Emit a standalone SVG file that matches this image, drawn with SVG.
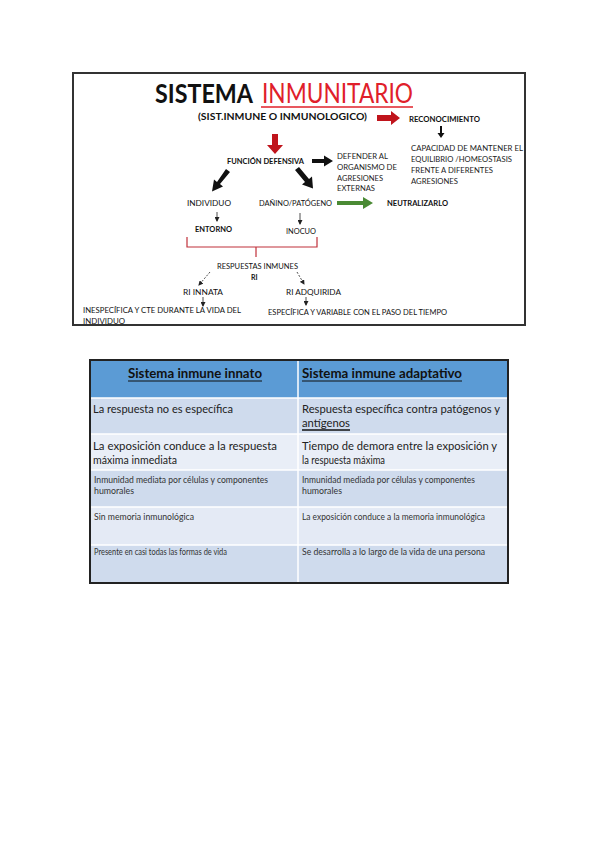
<svg xmlns="http://www.w3.org/2000/svg" width="599" height="848" viewBox="0 0 599 848">
<defs>
<style>
text{font-family:Lato,"Open Sans","Liberation Sans",sans-serif;fill:#111}
.b{font-weight:bold}
.s7{font-size:7px}
.s8{font-size:8px;fill:#222}
.t11{font-size:11.5px;fill:#222}
.t7{font-size:8.5px;fill:#333}
.th{font-size:12.5px;font-weight:bold;fill:#111}
.conn{fill:none;stroke:#222;stroke-width:0.8}
</style>
<marker id="sm" markerWidth="5" markerHeight="5" refX="4" refY="2.5" orient="auto" markerUnits="userSpaceOnUse"><path d="M0,0 L5,2.5 L0,5 z" fill="#222"/></marker>
</defs>
<rect width="599" height="848" fill="#fff"/>
<g id="frame"><rect x="73" y="73" width="452" height="252" fill="#fff" stroke="#333" stroke-width="2"/></g>
<g id="title">
<text x="155" y="103" font-size="27" class="b" textLength="98" lengthAdjust="spacingAndGlyphs">SISTEMA</text>
<text x="262" y="103" font-size="27" textLength="151" lengthAdjust="spacingAndGlyphs" style="fill:#e0202a">INMUNITARIO</text>
<line x1="261" y1="107" x2="413" y2="107" stroke="#e0202a" stroke-width="1.5"/>
</g>
<g id="sist"><text x="198" y="120" font-size="10" class="b" textLength="169" lengthAdjust="spacingAndGlyphs">(SIST.INMUNE O INMUNOLOGICO)</text></g>
<g id="reconoc"><text x="409" y="122" class="s7 b" textLength="71" lengthAdjust="spacingAndGlyphs">RECONOCIMIENTO</text></g>
<g id="capacidad"><text class="s8"><tspan x="411" y="151" textLength="112" lengthAdjust="spacingAndGlyphs">CAPACIDAD DE MANTENER EL</tspan><tspan x="411" y="162" textLength="101" lengthAdjust="spacingAndGlyphs">EQUILIBRIO /HOMEOSTASIS</tspan><tspan x="411" y="173" textLength="82" lengthAdjust="spacingAndGlyphs">FRENTE A DIFERENTES</tspan><tspan x="411" y="184" textLength="47" lengthAdjust="spacingAndGlyphs">AGRESIONES</tspan></text></g>
<g id="funcion"><text x="227" y="164" class="s7 b" textLength="77" lengthAdjust="spacingAndGlyphs">FUNCIÓN DEFENSIVA</text></g>
<g id="defender"><text class="s8"><tspan x="337" y="159" textLength="51" lengthAdjust="spacingAndGlyphs">DEFENDER AL</tspan><tspan x="337" y="170" textLength="60" lengthAdjust="spacingAndGlyphs">ORGANISMO DE</tspan><tspan x="337" y="181" textLength="46" lengthAdjust="spacingAndGlyphs">AGRESIONES</tspan><tspan x="337" y="191" textLength="38" lengthAdjust="spacingAndGlyphs">EXTERNAS</tspan></text></g>
<g id="individuo"><text x="187" y="206" class="s7" textLength="44" lengthAdjust="spacingAndGlyphs">INDIVIDUO</text></g>
<g id="danino"><text x="259" y="206" class="s7" textLength="73" lengthAdjust="spacingAndGlyphs">DAÑINO/PATÓGENO</text></g>
<g id="neutralizarlo"><text x="387" y="206" class="s7 b" textLength="61" lengthAdjust="spacingAndGlyphs">NEUTRALIZARLO</text></g>
<g id="entorno"><text x="195" y="232" class="s7 b" textLength="37" lengthAdjust="spacingAndGlyphs">ENTORNO</text></g>
<g id="inocuo"><text x="286" y="234" class="s7" textLength="30" lengthAdjust="spacingAndGlyphs">INOCUO</text></g>
<g id="respuestas"><text x="217" y="269" class="s7" textLength="81" lengthAdjust="spacingAndGlyphs">RESPUESTAS INMUNES</text><text x="251" y="280" class="s7 b">RI</text></g>
<g id="innata"><text x="183" y="295" class="s7" textLength="40" lengthAdjust="spacingAndGlyphs">RI INNATA</text></g>
<g id="adquirida"><text x="286" y="295" class="s7" textLength="55" lengthAdjust="spacingAndGlyphs">RI ADQUIRIDA</text></g>
<g id="inespecifica"><text class="s7"><tspan x="83" y="313" textLength="158" lengthAdjust="spacingAndGlyphs">INESPECÍFICA Y CTE DURANTE LA VIDA DEL</tspan><tspan x="83" y="324" textLength="42" lengthAdjust="spacingAndGlyphs">INDIVIDUO</tspan></text></g>
<g id="especifica"><text x="268" y="315" class="s7" textLength="179" lengthAdjust="spacingAndGlyphs">ESPECÍFICA Y VARIABLE CON EL PASO DEL TIEMPO</text></g>
<g id="connectors">
<path d="M377,115 h14 v-4 l9,7 l-9,7 v-4 h-14 z" fill="#c0141c"/>
<path d="M272,134 h6 v11 h5 l-8,9 l-8,-9 h5 z" fill="#c0141c"/>
<path d="M440,126 h2 v7 h2.5 l-3.5,5 l-3.5,-5 h2.5 z" fill="#111"/>
<path d="M312,159 h12 v-3.5 l9,5.5 l-9,5.5 v-3.5 h-12 z" fill="#111"/>
<path d="M226,169 l4,3 l-10,12 l3,2.5 l-11,5 l2,-12 l3,2.5 z" fill="#111"/>
<path d="M295,170 l4,-3 l10,12 l3,-2.5 l1,12 l-11,-4 l3,-2.5 z" fill="#111"/>
<path d="M337,201 h26 v-4 l10,6 l-10,6 v-4 h-26 z" fill="#4a8a34"/>
<line x1="217" y1="212" x2="217" y2="221" class="conn" marker-end="url(#sm)"/>
<line x1="300" y1="213" x2="300" y2="224" class="conn" marker-end="url(#sm)"/>
<path d="M187,237 V247 H317 V237 M256,247 V257" fill="none" stroke="#c0303a" stroke-width="1.2"/>
<line x1="210" y1="272" x2="199" y2="285" class="conn" stroke-dasharray="2,1.5" marker-end="url(#sm)"/>
<line x1="297" y1="272" x2="304" y2="284" class="conn" stroke-dasharray="2,1.5" marker-end="url(#sm)"/>
<line x1="203" y1="297" x2="203" y2="306" class="conn" stroke-width="1" marker-end="url(#sm)"/>
<line x1="306" y1="297" x2="306" y2="305" class="conn" stroke-width="1" marker-end="url(#sm)"/>
</g>
<g id="table">
<rect x="90" y="360" width="418" height="38" fill="#5b9bd5"/>
<rect x="90" y="398" width="418" height="36" fill="#cfdbed"/>
<rect x="90" y="434" width="418" height="36" fill="#e9eef7"/>
<rect x="90" y="470" width="418" height="37" fill="#cfdbed"/>
<rect x="90" y="507" width="418" height="38" fill="#e4eaf5"/>
<rect x="90" y="545" width="418" height="38" fill="#cfdbed"/>
<g stroke="#fff" stroke-width="1.5"><line x1="90" y1="398" x2="508" y2="398"/><line x1="90" y1="434" x2="508" y2="434"/><line x1="90" y1="470" x2="508" y2="470"/><line x1="90" y1="507" x2="508" y2="507"/><line x1="90" y1="545" x2="508" y2="545"/><line x1="298" y1="360" x2="298" y2="583"/></g>
<rect x="90" y="360" width="418" height="223" fill="none" stroke="#222" stroke-width="2"/>
<text x="128" y="378" class="th" textLength="134" lengthAdjust="spacingAndGlyphs">Sistema inmune innato</text>
<line x1="128" y1="381" x2="262" y2="381" stroke="#111" stroke-width="1"/>
<text x="302" y="378" class="th" textLength="160" lengthAdjust="spacingAndGlyphs">Sistema inmune adaptativo</text>
<line x1="302" y1="381" x2="462" y2="381" stroke="#111" stroke-width="1"/>
<text x="93" y="413" class="t11" textLength="140" lengthAdjust="spacingAndGlyphs">La respuesta no es específica</text>
<text class="t11"><tspan x="302" y="413" textLength="198" lengthAdjust="spacingAndGlyphs">Respuesta específica contra patógenos y</tspan><tspan x="302" y="427" textLength="48" lengthAdjust="spacingAndGlyphs">antígenos</tspan></text>
<line x1="302" y1="430" x2="350" y2="430" stroke="#111" stroke-width="1.3"/>
<text class="t11"><tspan x="93" y="450" textLength="184" lengthAdjust="spacingAndGlyphs">La exposición conduce a la respuesta</tspan><tspan x="93" y="464" textLength="84" lengthAdjust="spacingAndGlyphs">máxima inmediata</tspan></text>
<text class="t11"><tspan x="302" y="450" textLength="195" lengthAdjust="spacingAndGlyphs">Tiempo de demora entre la exposición y</tspan><tspan x="302" y="464" textLength="83" lengthAdjust="spacingAndGlyphs">la respuesta máxima</tspan></text>
<text class="t7"><tspan x="94" y="483" textLength="174" lengthAdjust="spacingAndGlyphs">Inmunidad mediata por células y componentes</tspan><tspan x="94" y="494" textLength="40" lengthAdjust="spacingAndGlyphs">humorales</tspan></text>
<text class="t7"><tspan x="302" y="483" textLength="173" lengthAdjust="spacingAndGlyphs">Inmunidad mediada por células y componentes</tspan><tspan x="302" y="494" textLength="40" lengthAdjust="spacingAndGlyphs">humorales</tspan></text>
<text x="94" y="520" class="t7" textLength="100" lengthAdjust="spacingAndGlyphs">Sin memoria inmunológica</text>
<text x="302" y="520" class="t7" textLength="183" lengthAdjust="spacingAndGlyphs">La exposición conduce a la memoria inmunológica</text>
<text x="94" y="555" class="t7" textLength="133" lengthAdjust="spacingAndGlyphs">Presente en casi todas las formas de vida</text>
<text x="302" y="555" class="t7" textLength="183" lengthAdjust="spacingAndGlyphs">Se desarrolla a lo largo de la vida de una persona</text>
</g>
</svg>
